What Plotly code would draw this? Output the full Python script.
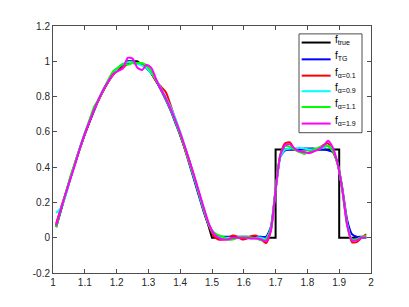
import plotly.graph_objects as go

# sample points shared by the reconstructed curves
x_grid = [1.01, 1.025, 1.04, 1.055, 1.07, 1.085, 1.10, 1.115, 1.13, 1.145,
          1.16, 1.175, 1.19, 1.205, 1.22, 1.235, 1.25, 1.265, 1.28, 1.295,
          1.31, 1.325, 1.34, 1.355, 1.37, 1.385, 1.40, 1.415, 1.43, 1.445,
          1.46, 1.475, 1.49, 1.505, 1.52, 1.535, 1.55, 1.565, 1.58, 1.595,
          1.61, 1.625, 1.64, 1.655, 1.67, 1.685, 1.70, 1.715, 1.73, 1.745,
          1.76, 1.775, 1.79, 1.805, 1.82, 1.835, 1.85, 1.865, 1.88, 1.895,
          1.91, 1.925, 1.94, 1.955, 1.97, 1.985]

# true function
x_true = [1.01, 1.025, 1.04, 1.055, 1.07, 1.085, 1.10, 1.115, 1.13, 1.145,
          1.16, 1.175, 1.19, 1.205, 1.22, 1.235, 1.25, 1.265, 1.28, 1.295,
          1.31, 1.325, 1.34, 1.355, 1.37, 1.385, 1.40, 1.415, 1.43, 1.445,
          1.46, 1.475, 1.49, 1.50, 1.70, 1.70, 1.90, 1.90, 1.985]
f_true = [0.06, 0.16, 0.25, 0.34, 0.43, 0.51, 0.59, 0.66, 0.73, 0.79,
          0.84, 0.89, 0.93, 0.96, 0.98, 1.0, 1.0, 1.0, 0.98, 0.96,
          0.93, 0.89, 0.84, 0.79, 0.73, 0.66, 0.59, 0.51, 0.43, 0.34,
          0.25, 0.16, 0.06, 0.0, 0.0, 0.5, 0.5, 0.0, 0.0]

f_tg = [0.07, 0.16, 0.25, 0.34, 0.425, 0.51, 0.585, 0.66, 0.73, 0.79,
        0.845, 0.89, 0.93, 0.96, 0.98, 0.99, 0.995, 0.99, 0.98, 0.96,
        0.93, 0.885, 0.835, 0.78, 0.72, 0.65, 0.58, 0.5, 0.41, 0.32,
        0.23, 0.14, 0.07, 0.03, 0.01, 0.005, 0.005, 0.005, 0.005, 0.005,
        0.005, 0.005, 0.005, 0.005, 0.005, 0.06, 0.27, 0.46, 0.495, 0.5,
        0.5, 0.5, 0.505, 0.505, 0.505, 0.5, 0.5, 0.495, 0.485, 0.42,
        0.28, 0.1, 0.02, 0.005, 0.005, 0.0]

f_a01 = [0.08, 0.17, 0.25, 0.34, 0.425, 0.51, 0.585, 0.66, 0.73, 0.785,
         0.84, 0.885, 0.925, 0.95, 0.965, 0.985, 0.99, 0.985, 0.985, 0.965,
         0.93, 0.885, 0.855, 0.825, 0.75, 0.67, 0.585, 0.5, 0.42, 0.335,
         0.245, 0.15, 0.07, 0.01, -0.01, -0.01, 0.0, 0.012, 0.005, -0.01,
         -0.005, 0.01, 0.012, -0.01, -0.03, 0.04, 0.27, 0.47, 0.535, 0.54,
         0.5, 0.49, 0.485, 0.48, 0.49, 0.505, 0.525, 0.535, 0.49, 0.42,
         0.27, 0.08, -0.025, -0.025, 0.0, 0.02]

f_a09 = [0.14, 0.17, 0.24, 0.34, 0.425, 0.515, 0.595, 0.665, 0.73, 0.79,
         0.845, 0.89, 0.93, 0.965, 0.985, 0.995, 0.995, 0.985, 0.975, 0.96,
         0.93, 0.895, 0.845, 0.795, 0.74, 0.675, 0.6, 0.515, 0.425, 0.335,
         0.245, 0.155, 0.075, 0.025, 0.005, 0.0, 0.0, -0.005, 0.0, 0.005,
         0.0, -0.005, 0.0, 0.0, -0.005, 0.05, 0.27, 0.46, 0.5, 0.505,
         0.505, 0.51, 0.505, 0.5, 0.5, 0.505, 0.51, 0.52, 0.5, 0.42,
         0.27, 0.08, -0.01, -0.01, 0.0, 0.0]

f_a11 = [0.06, 0.16, 0.255, 0.35, 0.43, 0.51, 0.59, 0.67, 0.745, 0.79,
         0.845, 0.9, 0.945, 0.965, 0.985, 0.98, 0.99, 0.99, 0.99, 0.975,
         0.94, 0.89, 0.84, 0.785, 0.725, 0.655, 0.585, 0.505, 0.42, 0.335,
         0.245, 0.155, 0.075, 0.03, 0.015, 0.005, -0.01, -0.01, 0.0, 0.005,
         0.005, 0.0, -0.005, -0.015, -0.01, 0.05, 0.28, 0.47, 0.52, 0.515,
         0.5, 0.485, 0.475, 0.485, 0.5, 0.51, 0.52, 0.52, 0.49, 0.42,
         0.27, 0.07, -0.015, -0.01, 0.005, 0.01]

f_a19 = [0.07, 0.165, 0.25, 0.335, 0.42, 0.51, 0.59, 0.66, 0.73, 0.79,
         0.845, 0.89, 0.93, 0.945, 0.96, 1.02, 1.015, 0.965, 0.95, 0.98,
         0.96, 0.895, 0.84, 0.79, 0.73, 0.665, 0.595, 0.515, 0.43, 0.345,
         0.255, 0.165, 0.08, 0.025, 0.0, -0.01, -0.01, 0.0, 0.0, 0.0,
         0.0, -0.005, -0.005, -0.01, -0.02, 0.04, 0.27, 0.47, 0.525, 0.53,
         0.505, 0.49, 0.485, 0.48, 0.49, 0.5, 0.52, 0.55, 0.51, 0.42,
         0.27, 0.07, -0.015, -0.015, 0.0, 0.0]

x_ticks = [1, 1.1, 1.2, 1.3, 1.4, 1.5, 1.6, 1.7, 1.8, 1.9, 2]
x_tick_text = ['1', '1.1', '1.2', '1.3', '1.4', '1.5', '1.6', '1.7', '1.8', '1.9', '2']
y_ticks = [-0.2, 0, 0.2, 0.4, 0.6, 0.8, 1, 1.2]
y_tick_text = ['-0.2', '0', '0.2', '0.4', '0.6', '0.8', '1', '1.2']

names = ['true', 'TG', 'α=0.1', 'α=0.9', 'α=1.1', 'α=1.9']
colors = ['#000000', '#0000ff', '#ff0000', '#00ffff', '#00ff00', '#ff00ff']

fig = go.Figure()
fig.add_trace(go.Scatter(x=x_true, y=f_true, mode='lines', name='f<sub>true</sub>',
                         line=dict(color=colors[0], width=2)))
for ys, name, col in zip([f_tg, f_a01, f_a09, f_a11, f_a19], names[1:], colors[1:]):
    fig.add_trace(go.Scatter(x=x_grid, y=ys, mode='lines', name=f'f<sub>{name}</sub>',
                             line=dict(color=col, width=2, shape='spline', smoothing=0.6)))

# MATLAB-like legend box (plotly's own legend rows are too tall here)
leg_x0, leg_x1, leg_y0, leg_y1 = 0.7736, 0.9717, 0.568, 0.968
fig.add_shape(type='rect', xref='paper', yref='paper', x0=leg_x0, x1=leg_x1,
              y0=leg_y0, y1=leg_y1, line=dict(color='#4d4d4d', width=1), fillcolor='white',
              layer='above')
row_y = [0.933, 0.865, 0.799, 0.736, 0.672, 0.605]
for ry, name, col in zip(row_y, names, colors):
    fig.add_shape(type='line', xref='paper', yref='paper', x0=0.782, x1=0.873, y0=ry, y1=ry,
                  line=dict(color=col, width=2), layer='above')
    fig.add_annotation(xref='paper', yref='paper', x=0.879, y=ry + 0.012, xanchor='left',
                       yanchor='middle', showarrow=False, text=f'f<sub>{name}</sub>',
                       font=dict(family='Liberation Sans, Arial', size=10, color='#000000'))

axis_style = dict(showline=True, linecolor='#4d4d4d', linewidth=1, mirror='ticks',
                  ticks='inside', ticklen=4, tickcolor='#4d4d4d', showgrid=False,
                  zeroline=False, tickfont=dict(family='Liberation Sans, Arial', size=10, color='#262626'))

# the page body adds ~8px offset, so the figure is shrunk to fit the window
fig.update_layout(
    width=401, height=299,
    margin=dict(l=45, r=38, t=15, b=34),
    paper_bgcolor='white', plot_bgcolor='white',
    showlegend=False,
)
fig.update_xaxes(range=[1, 2], tickvals=x_ticks, ticktext=x_tick_text, **axis_style)
fig.update_yaxes(range=[-0.2, 1.2], tickvals=y_ticks, ticktext=y_tick_text, **axis_style)

fig.write_html("out.html")
